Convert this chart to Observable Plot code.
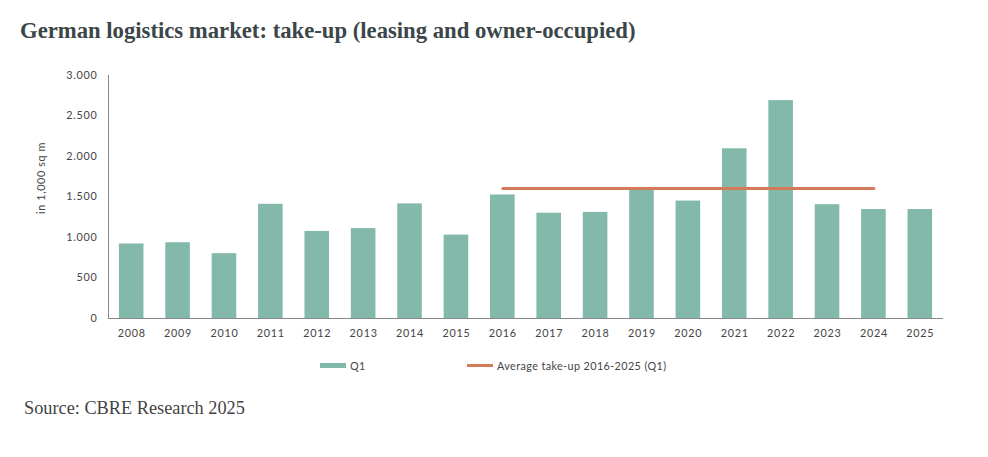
<!DOCTYPE html>
<html>
<head>
<meta charset="utf-8">
<script src="https://cdn.jsdelivr.net/npm/d3@7"></script>
<script src="https://cdn.jsdelivr.net/npm/@observablehq/plot@0.6"></script>
<style>
  html, body { margin: 0; padding: 0; background: #fff; }
  body { width: 988px; height: 457px; position: relative; overflow: hidden; }
  #title { position: absolute; left: 20px; top: 18px; font-family: "Liberation Serif", serif; font-weight: bold; font-size: 22.7px; color: #3b4648; white-space: nowrap; }
  #chart { position: absolute; left: 0; top: 60px; }
  #chart svg text { letter-spacing: 0.75px; }
  #ylabel { position: absolute; left: 40px; top: 178px; transform: translate(-50%, -50%) rotate(-90deg); font-family: Lato, sans-serif; font-size: 10.8px; letter-spacing: 0.6px; color: #444; white-space: nowrap; }
  #legend { position: absolute; top: 358px; left: 0; width: 988px; font-family: Lato, sans-serif; font-size: 10.8px; letter-spacing: 0.4px; color: #444; }
  .item { position: absolute; top: 0; display: flex; align-items: center; white-space: nowrap; height: 14px; }
  .sw { display: inline-block; width: 26px; margin-right: 4px; }
  #source { position: absolute; left: 24px; top: 398px; font-family: "Liberation Serif", serif; font-size: 18.3px; color: #444; white-space: nowrap; }
</style>
</head>
<body>
<div id="title">German logistics market: take-up (leasing and owner-occupied)</div>
<div id="chart"></div>
<div id="ylabel">in 1,000 sq m</div>
<div id="legend"></div>
<div id="source">Source: CBRE Research 2025</div>
<script>
const years = ["2008","2009","2010","2011","2012","2013","2014","2015","2016","2017","2018","2019","2020","2021","2022","2023","2024","2025"];
const q1Values = [920, 935, 800, 1410, 1075, 1110, 1415, 1030, 1525, 1300, 1310, 1590, 1450, 2095, 2690, 1405, 1345, 1345];
const avgYears = ["2016", "2024"];
const avgValue = 1605;
const yTicks = [0, 500, 1000, 1500, 2000, 2500, 3000];
const seriesNames = ["Q1", "Average take-up 2016-2025 (Q1)"];

const barColor = "#82b9aa";
const lineColor = "#d27a5a";

const bars = years.map((y, i) => ({year: y, value: q1Values[i]}));
const avgLine = avgYears.map(y => ({year: y, value: avgValue}));
const de = d3.formatLocale({decimal: ",", thousands: ".", grouping: [3], currency: ["", "€"]}).format(",");

const plot = Plot.plot({
  width: 988,
  height: 300,
  marginLeft: 108,
  marginRight: 45,
  marginTop: 15,
  marginBottom: 42,
  style: {fontFamily: "Lato, sans-serif", fontSize: "10.8px", color: "#444", background: "#fff"},
  x: {domain: years, paddingInner: 0.47, paddingOuter: 0.235, align: 0.5, round: false, label: null},
  y: {domain: [0, 3000], label: null},
  marks: [
    Plot.barY(bars, {x: "year", y: "value", fill: barColor}),
    Plot.line(avgLine, {x: "year", y: "value", stroke: lineColor, strokeWidth: 3}),
    Plot.axisX({tickSize: 0, tickPadding: 11, label: null}),
    Plot.axisY({ticks: yTicks, tickFormat: de, tickSize: 0, tickPadding: 11, label: null}),
    Plot.ruleY([0], {stroke: "#888", strokeWidth: 1}),
    Plot.frame({anchor: "left", stroke: "#888"})
  ]
});
document.getElementById("chart").appendChild(plot);

const legend = document.getElementById("legend");
const items = [
  {name: seriesNames[0], color: barColor, h: 5, left: 320},
  {name: seriesNames[1], color: lineColor, h: 3, left: 467}
];
for (const it of items) {
  const d = document.createElement("div");
  d.className = "item";
  d.style.left = it.left + "px";
  const s = document.createElement("span");
  s.className = "sw";
  s.style.height = it.h + "px";
  s.style.background = it.color;
  d.appendChild(s);
  d.appendChild(document.createTextNode(it.name));
  legend.appendChild(d);
}
</script>
</body>
</html>
